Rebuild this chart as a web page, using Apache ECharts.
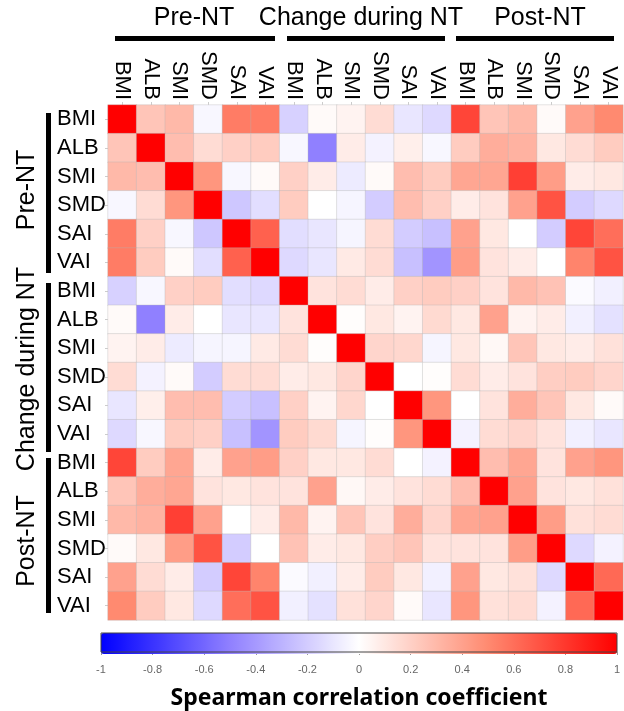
<!DOCTYPE html>
<html>
<head>
<meta charset="utf-8">
<script src="https://cdn.jsdelivr.net/npm/echarts@6/dist/echarts.min.js"></script>
<style>
  html, body { margin: 0; padding: 0; background: #fff; }
  #main { width: 624px; height: 711px; }
</style>
</head>
<body>
<div id="main"></div>
<script>
// variables and groups
var vars = ['BMI', 'ALB', 'SMI', 'SMD', 'SAI', 'VAI'];
var groups = ['Pre-NT', 'Change during NT', 'Post-NT'];
var labels = vars.concat(vars, vars);
var barTicks = [-1, -0.8, -0.6, -0.4, -0.2, 0, 0.2, 0.4, 0.6, 0.8, 1];

// Spearman correlations (rows top -> bottom)
var corr = [
  [1, .25, .3, -.03, .55, .55, -.18, .02, .05, .15, -.1, -.15, .75, .25, .3, .02, .4, .5],
  [.25, 1, .28, .15, .2, .22, -.03, -.5, .08, -.05, .07, -.03, .22, .35, .33, .1, .15, .22],
  [.3, .28, 1, .45, -.03, .02, .2, .08, -.08, .02, .28, .22, .38, .38, .77, .42, .08, .1],
  [-.03, .15, .45, 1, -.22, -.13, .22, 0, -.04, -.2, .28, .2, .08, .12, .4, .7, -.2, -.15],
  [.55, .2, -.03, -.22, 1, .65, -.13, -.1, -.04, .15, -.2, -.25, .4, .1, 0, -.2, .75, .6],
  [.55, .22, .02, -.13, .65, 1, -.15, -.1, .09, .15, -.25, -.42, .42, .12, .08, 0, .52, .7],
  [-.18, -.03, .2, .22, -.13, -.15, 1, .12, .15, .08, .2, .22, .2, .12, .3, .26, -.02, -.06],
  [.02, -.5, .08, 0, -.1, -.1, .12, 1, .01, .1, .05, .16, .1, .4, .05, .08, -.06, -.12],
  [.05, .08, -.08, -.04, -.04, .09, .15, .01, 1, .18, .17, -.04, .1, .03, .25, .1, .08, .13],
  [.15, -.05, .02, -.2, .15, .15, .08, .1, .18, 1, 0, .01, .15, .08, .12, .21, .22, .18],
  [-.1, .07, .28, .28, -.2, -.25, .2, .05, .17, 0, 1, .45, 0, .12, .35, .25, .1, .02],
  [-.15, -.03, .22, .2, -.25, -.42, .22, .16, -.04, .01, .45, 1, -.05, .15, .18, .12, -.06, -.1],
  [.75, .22, .38, .08, .4, .42, .2, .1, .1, .15, 0, -.05, 1, .28, .38, .12, .4, .45],
  [.25, .35, .38, .12, .1, .12, .12, .4, .03, .08, .12, .15, .28, 1, .4, .12, .1, .13],
  [.3, .33, .77, .4, 0, .08, .3, .05, .25, .12, .35, .18, .38, .4, 1, .42, .13, .15],
  [.02, .1, .42, .7, -.2, 0, .26, .08, .1, .21, .25, .12, .12, .12, .42, 1, -.15, -.05],
  [.4, .15, .08, -.2, .75, .52, -.02, -.06, .08, .22, .1, -.06, .4, .1, .13, -.15, 1, .62],
  [.5, .22, .1, -.15, .6, .7, -.06, -.12, .13, .18, .02, -.1, .45, .13, .15, -.05, .62, 1]
];

var data = [];
for (var i = 0; i < corr.length; i++) {
  for (var j = 0; j < corr[i].length; j++) {
    data.push([j, i, corr[i][j]]);
  }
}

var myChart = echarts.init(document.getElementById('main'));
var font = 'Liberation Sans, Arial, sans-serif';

// group bars / labels (decoration)
var gfx = [];
var topBars = [[115, 275], [287, 445], [456, 614]];
var topText = [194, 361, 540];
var leftBars = [[113, 273], [283, 452], [458, 613]];
var leftText = [190, 369, 541];
for (var k = 0; k < 3; k++) {
  gfx.push({
    type: 'rect',
    shape: { x: topBars[k][0], y: 36, width: topBars[k][1] - topBars[k][0], height: 5 },
    style: { fill: '#000' }
  });
  gfx.push({
    type: 'text',
    x: topText[k], y: 18,
    style: { text: groups[k], font: '25px ' + font, fill: '#000', align: 'center', verticalAlign: 'middle' }
  });
  gfx.push({
    type: 'rect',
    shape: { x: 46, y: leftBars[k][0], width: 5, height: leftBars[k][1] - leftBars[k][0] },
    style: { fill: '#000' }
  });
  gfx.push({
    type: 'text',
    x: 27, y: leftText[k], rotation: Math.PI / 2,
    style: { text: groups[k], font: '25px ' + font, fill: '#000', align: 'center', verticalAlign: 'middle' }
  });
}

option = {
  backgroundColor: '#fff',
  animation: false,
  grid: [{
    left: 108, top: 105, width: 515, height: 515
  }, {
    left: 101, top: 633, width: 516, height: 21,
    show: true, borderColor: '#444', borderWidth: 1, backgroundColor: 'transparent', z: 10
  }],
  xAxis: [{
    type: 'category',
    position: 'top',
    data: labels,
    axisLine: { show: false },
    axisTick: { show: true, alignWithLabel: true, length: 3, lineStyle: { color: '#ccc' } },
    axisLabel: { rotate: 90, interval: 0, color: '#000', fontSize: 22, fontFamily: font, margin: 5 },
    splitLine: { show: false }
  }, {
    gridIndex: 1,
    type: 'value',
    min: -1, max: 1, interval: 0.2,
    axisLine: { show: false },
    axisTick: { show: true, length: 3, lineStyle: { color: '#999' } },
    splitLine: { show: false },
    axisLabel: { color: '#666', fontSize: 11, fontFamily: font, margin: 12 },
    name: 'Spearman correlation coefficient',
    nameLocation: 'middle',
    nameGap: 35,
    nameTextStyle: { color: '#000', fontSize: 23, fontWeight: 'bold', fontFamily: 'Noto Sans, sans-serif' }
  }],
  yAxis: [{
    type: 'category',
    inverse: true,
    data: labels,
    axisLine: { show: false },
    axisTick: { show: true, alignWithLabel: true, length: 3, lineStyle: { color: '#ccc' } },
    axisLabel: { interval: 0, color: '#000', fontSize: 22, fontFamily: font, align: 'left', margin: 51 },
    splitLine: { show: false }
  }, {
    gridIndex: 1,
    type: 'value',
    show: false
  }],
  visualMap: {
    type: 'continuous',
    min: -1, max: 1,
    orient: 'horizontal',
    left: 101, top: 633,
    itemWidth: 21, itemHeight: 516,
    padding: 0,
    calculable: false,
    hoverLink: false,
    formatter: function () { return ''; },
    seriesIndex: 0,
    inRange: { color: ['#0000ff', '#9080ff', '#ffffff', '#ff8a70', '#ff0000'] }
  },
  series: [{
    type: 'heatmap',
    xAxisIndex: 0,
    yAxisIndex: 0,
    data: data,
    z: 3,
    itemStyle: { borderColor: 'rgba(180,180,180,0.35)', borderWidth: 1 }
  }],
  graphic: gfx
};

myChart.setOption(option);
</script>
</body>
</html>
